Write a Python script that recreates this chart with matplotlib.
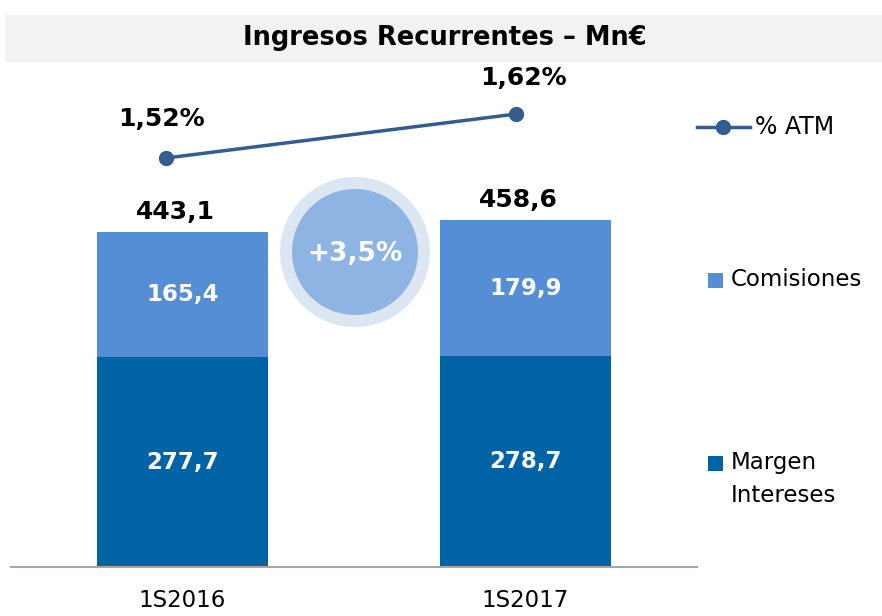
import matplotlib.pyplot as plt
from matplotlib.patches import Rectangle, Ellipse
from matplotlib.lines import Line2D

periods = ['1S2016', '1S2017']
margen = [277.7, 278.7]
comisiones = [165.4, 179.9]
totales = [443.1, 458.6]
atm = [1.52, 1.62]
atm_labels = ['1,52%', '1,62%']
variacion = '+3,5%'

c_margen = '#0063a6'
c_comis = '#558ed5'
c_line = '#325d91'

W, H = 882, 616
fig = plt.figure(figsize=(W / 100, H / 100), dpi=100)
plt.rcParams['font.family'] = 'DejaVu Sans'


def fx(px):
    return px / W


def fy(py):
    return 1 - py / H


def fmt(v):
    return f'{v:.1f}'.replace('.', ',')


# title band
fig.add_artist(Rectangle((fx(5), fy(62)), 1 - fx(5), (62 - 15) / H,
                         transform=fig.transFigure, color='#f2f2f2', lw=0, zorder=-5))
fig.text(fx(445), fy(38), 'Ingresos Recurrentes – Mn€', ha='center', va='center',
         fontsize=18.5, fontweight='bold')

ax = fig.add_axes([fx(11), 49 / H, 686 / W, 502 / H])
x = range(len(periods))
ax.bar(x, margen, width=0.5, color=c_margen)
ax.bar(x, comisiones, width=0.5, bottom=margen, color=c_comis)
for i in x:
    ax.text(i, margen[i] / 2, fmt(margen[i]), ha='center', va='center',
            color='white', fontsize=16.5, fontweight='bold')
    ax.text(i, margen[i] + comisiones[i] / 2, fmt(comisiones[i]),
            ha='center', va='center', color='white', fontsize=16.5, fontweight='bold')
    ax.text(i - 0.02, totales[i] + 11, fmt(totales[i]), ha='center', va='bottom',
            fontsize=18, fontweight='bold')
ax.set_xlim(-0.5, 1.5)
ax.set_ylim(0, 664)
for s in ['top', 'right', 'left']:
    ax.spines[s].set_visible(False)
ax.spines['bottom'].set_color('#a6a6a6')
ax.spines['bottom'].set_linewidth(1.5)
ax.set_yticks([])
ax.set_xticks(list(x))
ax.set_xticklabels(periods, fontsize=16.5)
ax.tick_params(axis='x', length=0, pad=16)

# % ATM line on its own axes
ax2 = fig.add_axes(ax.get_position(), frameon=False)
ax2.plot(x, atm, color=c_line, lw=2.5, marker='o', markersize=10)
for i in x:
    ax2.annotate(atm_labels[i], (i, atm[i]), xytext=(-3 if i == 0 else 5, 28 if i == 0 else 26),
                 textcoords='offset points', ha='center', va='center',
                 fontsize=18, fontweight='bold')
ax2.set_xlim(-0.443, 1.517)
ax2.set_ylim(0.5905, 1.7314)
ax2.set_xticks([])
ax2.set_yticks([])

# variation circle
fig.add_artist(Ellipse((fx(355), fy(252)), 150 / W, 150 / H, transform=fig.transFigure,
                       color='#dce6f2', lw=0))
fig.add_artist(Ellipse((fx(355), fy(252)), 126 / W, 126 / H, transform=fig.transFigure,
                       color='#8eb4e3', lw=0))
fig.text(fx(355), fy(254), variacion, ha='center', va='center', color='white',
         fontsize=19, fontweight='bold')

# legend
fig.add_artist(Line2D([fx(697), fx(750)], [fy(127), fy(127)], color=c_line, lw=2.5,
                      transform=fig.transFigure))
fig.add_artist(Line2D([fx(723)], [fy(127)], color=c_line, marker='o', markersize=10,
                      transform=fig.transFigure))
fig.text(fx(755), fy(127), '% ATM', va='center', fontsize=17)
fig.add_artist(Rectangle((fx(708), fy(288)), 15 / W, 15 / H, transform=fig.transFigure,
                         color=c_comis, lw=0))
fig.text(fx(731), fy(280), 'Comisiones', va='center', fontsize=16.5)
fig.add_artist(Rectangle((fx(708), fy(471)), 15 / W, 15 / H, transform=fig.transFigure,
                         color=c_margen, lw=0))
fig.text(fx(731), fy(463), 'Margen', va='center', fontsize=16.5)
fig.text(fx(731), fy(496), 'Intereses', va='center', fontsize=16.5)

fig.savefig('out.png', dpi=100)
